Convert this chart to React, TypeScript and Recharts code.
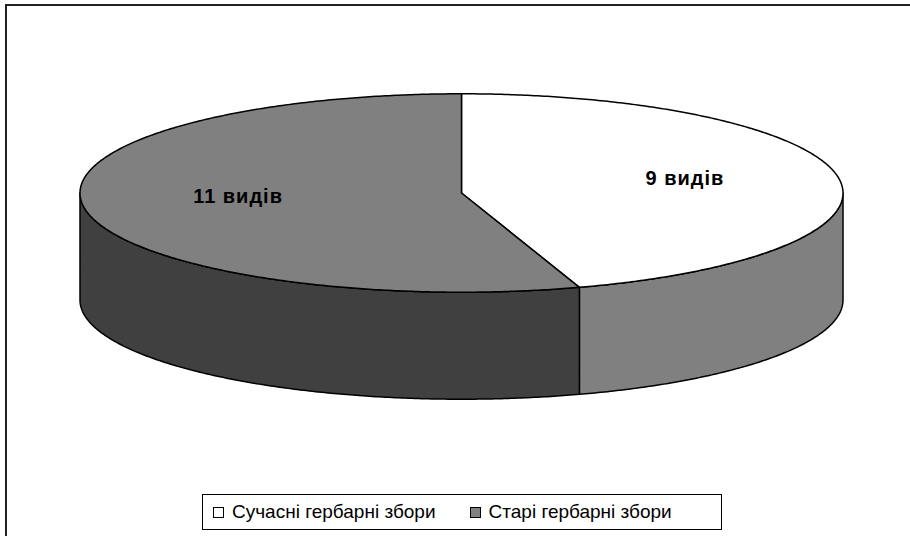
import { PieChart, Pie, Cell, Legend } from 'recharts'

// herbarium collections: number of species
const NAMES = ['Сучасні гербарні збори', 'Старі гербарні збори']
const COUNTS = [9, 11]
const LABELS = ['9 видів', '11 видів']

const TOP_COLORS = ['#ffffff', '#808080']
const SIDE_COLORS = ['#808080', '#404040']

const data = NAMES.map((name, i) => ({ name, value: COUNTS[i] }))

const TILT = 0.26 // vertical squash of the pie top
const DEPTH = 107 // height of the cylinder wall
const RAD = Math.PI / 180
const FONT = '"Liberation Sans", Arial, sans-serif'

function pt(cx: number, cy: number, r: number, a: number, dy = 0) {
  return [cx + r * Math.cos(a * RAD), cy - TILT * r * Math.sin(a * RAD) + dy]
}

function arc(cx: number, cy: number, r: number, a1: number, a2: number, dy = 0) {
  const n = Math.max(2, Math.ceil(Math.abs(a2 - a1) * 2))
  const out: string[] = []
  for (let k = 0; k <= n; k++) {
    const [x, y] = pt(cx, cy, r, a1 + ((a2 - a1) * k) / n, dy)
    out.push(`${x.toFixed(2)},${y.toFixed(2)}`)
  }
  return out
}

function Slice3D(props: any) {
  const { cx, cy, outerRadius: r, startAngle, endAngle, fill } = props
  const name = props.name ?? props.payload?.name
  const i = Math.max(0, NAMES.indexOf(name))
  const lo = Math.min(startAngle, endAngle)
  const hi = Math.max(startAngle, endAngle)

  // front part of the wall: where the angle points towards the viewer
  const sides: [number, number][] = []
  for (let n = -2; n <= 1; n++) {
    const a = Math.max(lo, -180 + 360 * n)
    const b = Math.min(hi, 360 * n)
    if (b > a) sides.push([a, b])
  }

  const top = `M${cx},${cy} L${arc(cx, cy, r, startAngle, endAngle).join(' L')} Z`

  return (
    <g>
      {sides.map(([a, b], k) => {
        const upper = arc(cx, cy, r, a, b)
        const lower = arc(cx, cy, r, b, a, DEPTH)
        return (
          <path
            key={k}
            d={`M${upper.join(' L')} L${lower.join(' L')} Z`}
            fill={SIDE_COLORS[i]}
            stroke="#000"
            strokeWidth={1.5}
            strokeLinejoin="round"
          />
        )
      })}
      <path d={top} fill={fill} stroke="#000" strokeWidth={1.5} strokeLinejoin="round" />
    </g>
  )
}

function renderLabel(props: any) {
  const { cx, cy, midAngle, outerRadius, index } = props
  const [x, y] = pt(cx, cy, outerRadius * 0.593, midAngle)
  return (
    <text
      x={x}
      y={y - 6}
      textAnchor="middle"
      dominantBaseline="central"
      fontFamily={FONT}
      fontWeight="bold"
      fontSize={20}
      letterSpacing={1}
      fill="#000"
    >
      {LABELS[index]}
    </text>
  )
}

function LegendBox() {
  return (
    <div
      style={{
        boxSizing: 'border-box',
        height: 36,
        width: 520,
        border: '1px solid #000',
        background: '#fff',
        display: 'flex',
        alignItems: 'center',
        paddingLeft: 10,
        fontFamily: FONT,
        fontSize: 19,
        color: '#000',
        whiteSpace: 'nowrap',
      }}
    >
      {NAMES.map((n, k) => (
        <span key={n} style={{ display: 'flex', alignItems: 'center', marginRight: 34 }}>
          <span
            style={{
              display: 'inline-block',
              width: 9,
              height: 9,
              border: '1px solid #000',
              background: TOP_COLORS[k],
              marginRight: 8,
            }}
          />
          {n}
        </span>
      ))}
    </div>
  )
}

export default function App() {
  return (
    <div
      style={{
        position: 'absolute',
        left: 0,
        top: 0,
        width: 910,
        height: 536,
        overflow: 'hidden',
        background: '#fff',
      }}
    >
      <div
        style={{
          position: 'absolute',
          left: 5,
          top: 4,
          width: 1000,
          height: 700,
          border: '2px solid #222',
        }}
      />
      <PieChart
        width={910}
        height={536}
        margin={{ top: 0, right: 0, bottom: 0, left: 0 }}
        style={{ position: 'absolute', left: 0, top: 0 }}
      >
        <Pie
          data={data}
          dataKey="value"
          nameKey="name"
          cx={461.5}
          cy={193}
          outerRadius={381.5}
          startAngle={90}
          endAngle={-270}
          stroke="#000"
          shape={Slice3D}
          label={renderLabel}
          labelLine={false}
          isAnimationActive={false}
        >
          {data.map((d, i) => (
            <Cell key={d.name} fill={TOP_COLORS[i]} />
          ))}
        </Pie>
        <Legend
          verticalAlign="bottom"
          align="left"
          content={LegendBox}
          wrapperStyle={{ position: 'absolute', left: 202, top: 494, bottom: 'auto', width: 520 }}
        />
      </PieChart>
    </div>
  )
}
